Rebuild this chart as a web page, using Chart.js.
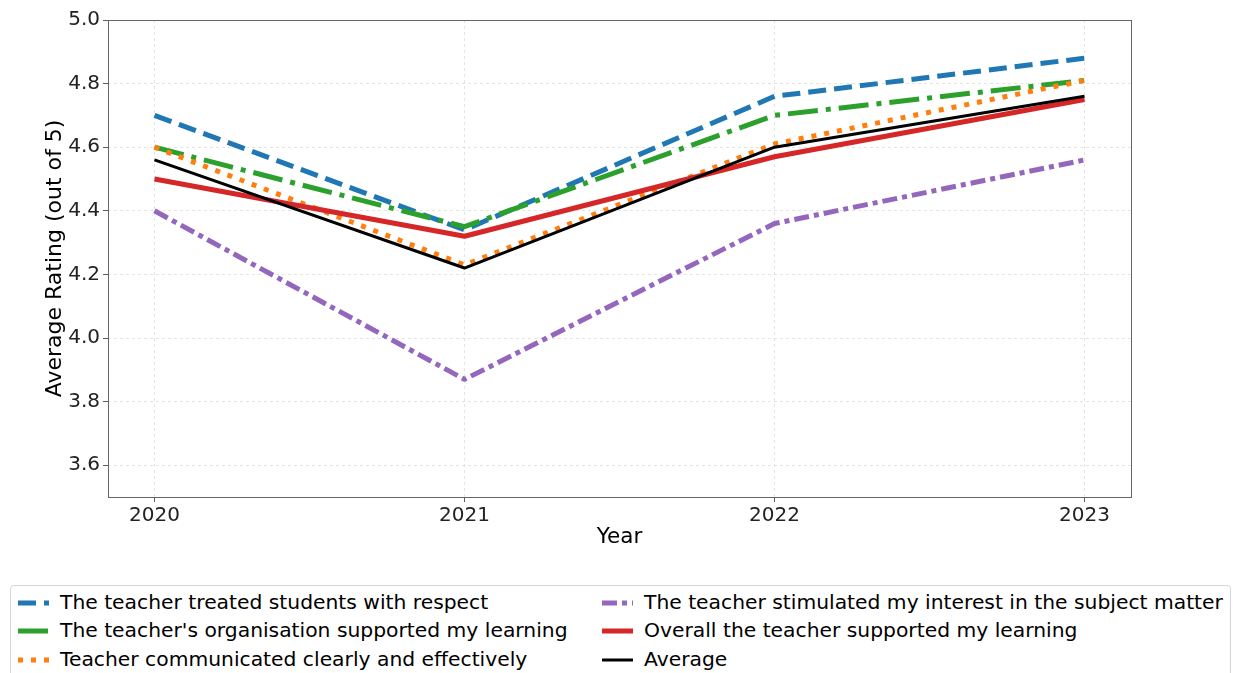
<!DOCTYPE html>
<html>
<head>
<meta charset="utf-8">
<script src="https://cdn.jsdelivr.net/npm/chart.js@4"></script>
<style>
  html, body { margin: 0; padding: 0; background: #fff; }
  #wrap { position: relative; width: 1233px; height: 673px; overflow: hidden; }
  #chart { position: absolute; left: 0; top: 0; }
  #legend {
    position: absolute; left: 10px; top: 585px; width: 1219px; height: 110px;
    border: 1px solid #d6d6d6; border-radius: 4px; background: #fff;
    font-family: "DejaVu Sans", sans-serif; font-size: 20.3px; color: #000;
  }
  .item { position: absolute; height: 29px; line-height: 29px; white-space: nowrap; }
  .item svg { position: absolute; left: 0; top: 0; }
  .item span { position: absolute; top: 0; left: 42px; }
</style>
</head>
<body>
<div id="wrap">
  <canvas id="chart" width="1233" height="673"></canvas>
  <div id="legend"></div>
</div>
<script>
var years = [2020, 2021, 2022, 2023];
var yTicks = [3.6, 3.8, 4.0, 4.2, 4.4, 4.6, 4.8, 5.0];

var respect = [4.70, 4.34, 4.76, 4.88];
var organisation = [4.60, 4.35, 4.70, 4.81];
var communicated = [4.60, 4.23, 4.61, 4.81];
var stimulated = [4.40, 3.87, 4.36, 4.56];
var overall = [4.50, 4.32, 4.57, 4.75];
var average = [4.56, 4.22, 4.60, 4.76];

var labels = [
    'The teacher treated students with respect',
    "The teacher's organisation supported my learning",
    'Teacher communicated clearly and effectively',
    'The teacher stimulated my interest in the subject matter',
    'Overall the teacher supported my learning',
    'Average'
];
var series = [respect, organisation, communicated, stimulated, overall, average];
var colors = ['#1f77b4', '#2ca02c', '#ff7f0e', '#9467bd', '#d62728', '#000000'];
var widths = [5, 5, 5, 5, 5, 3];
var dashes = [[18, 8], [30, 8, 5, 8], [5, 8], [15, 5, 5, 5], [], []];

function toPoints(vals) {
    return vals.map(function(v, i) { return {x: years[i], y: v}; });
}

var datasets = series.map(function(vals, i) {
    return {
        label: labels[i],
        data: toPoints(vals),
        borderColor: colors[i],
        backgroundColor: colors[i],
        borderWidth: widths[i],
        borderDash: dashes[i],
        borderJoinStyle: 'round',
        pointRadius: 0,
        pointHoverRadius: 0,
        tension: 0,
        fill: false,
        order: series.length - 1 - i
    };
});

var frame = {
    id: 'frame',
    afterDraw: function(chart) {
        var a = chart.chartArea, ctx = chart.ctx;
        ctx.save();
        ctx.strokeStyle = '#666';
        ctx.lineWidth = 1;
        ctx.strokeRect(Math.round(a.left) + 0.5, Math.round(a.top) + 0.5,
            Math.round(a.right - a.left), Math.round(a.bottom - a.top));
        ctx.restore();
    }
};

var font = "'DejaVu Sans', sans-serif";
var ctx = document.getElementById('chart');
new Chart(ctx, {
    type: 'line',
    data: { datasets: datasets },
    plugins: [frame],
    options: {
        responsive: false,
        animation: false,
        layout: { padding: { left: 42, right: 102, top: 20, bottom: 123 } },
        plugins: {
            legend: { display: false },
            tooltip: { enabled: false }
        },
        scales: {
            x: {
                type: 'linear',
                min: 2019.85,
                max: 2023.15,
                afterBuildTicks: function(scale) {
                    scale.ticks = years.map(function(v) { return {value: v}; });
                },
                afterFit: function(scale) { scale.height = 53; },
                ticks: {
                    color: '#222',
                    font: { family: font, size: 20 },
                    padding: 2,
                    maxRotation: 0,
                    callback: function(v) { return String(v); }
                },
                grid: {
                    color: '#dddddd',
                    lineWidth: 0.8,
                    tickColor: '#333',
                    tickLength: 5,
                    tickBorderDash: []
                },
                border: { display: false, dash: [3, 3] },
                title: {
                    display: true,
                    text: 'Year',
                    color: '#000',
                    font: { family: font, size: 21.5 },
                    padding: 0
                }
            },
            y: {
                min: 3.5,
                max: 5.0,
                afterBuildTicks: function(scale) {
                    scale.ticks = yTicks.map(function(v) { return {value: v}; });
                },
                afterFit: function(scale) { scale.width = 66; },
                ticks: {
                    color: '#222',
                    font: { family: font, size: 20 },
                    padding: 3,
                    callback: function(v) { return Number(v).toFixed(1); }
                },
                grid: {
                    color: '#dddddd',
                    lineWidth: 0.8,
                    tickColor: '#333',
                    tickLength: 5,
                    tickBorderDash: []
                },
                border: { display: false, dash: [3, 3] },
                title: {
                    display: true,
                    text: 'Average Rating (out of 5)',
                    color: '#000',
                    font: { family: font, size: 22 },
                    padding: { top: 0, bottom: 6 }
                }
            }
        }
    }
});

// legend: two columns, filled top to bottom
var legend = document.getElementById('legend');
var colLeft = [7, 591];
labels.forEach(function(text, i) {
    var col = Math.floor(i / 3), row = i % 3;
    var item = document.createElement('div');
    item.className = 'item';
    item.style.left = colLeft[col] + 'px';
    item.style.top = (1.5 + row * 28.5) + 'px';
    var dash = dashes[i].length ? dashes[i].join(' ') : 'none';
    item.innerHTML = '<svg width="36" height="29"><line x1="0" y1="15" x2="31" y2="15" stroke="' +
        colors[i] + '" stroke-width="' + widths[i] + '" stroke-dasharray="' + dash + '"/></svg>' +
        '<span>' + text.replace(/'/g, '&#39;') + '</span>';
    legend.appendChild(item);
});
</script>
</body>
</html>
